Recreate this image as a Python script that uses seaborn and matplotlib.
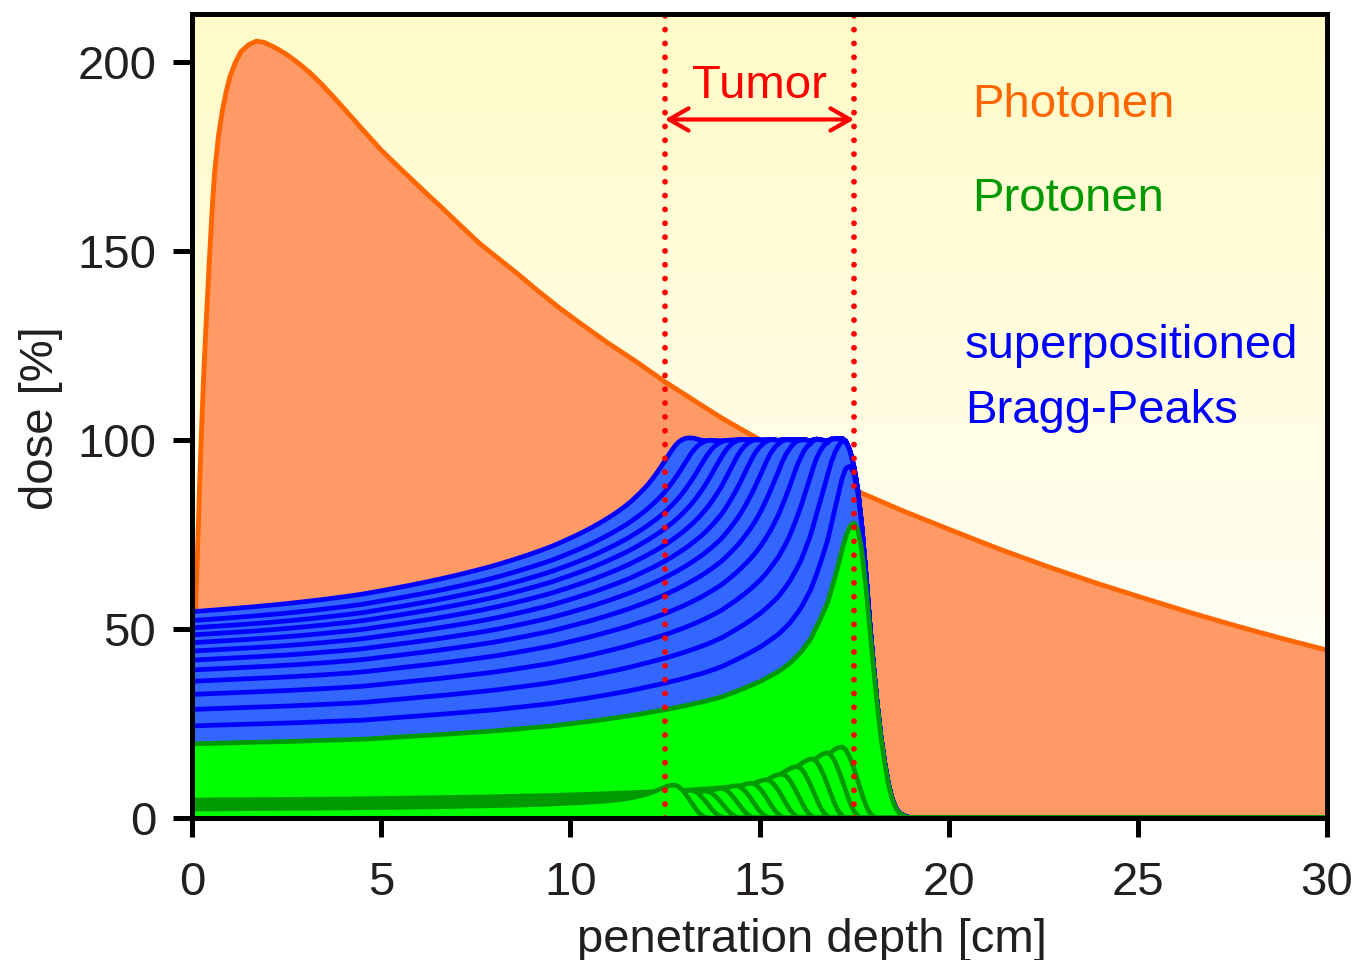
import numpy as np
import matplotlib
matplotlib.use("Agg")
import matplotlib.pyplot as plt
import seaborn as sns

# Photon depth-dose curve (depth in cm, dose in %)
photon_depth = [0.0, 0.05, 0.1, 0.15, 0.2, 0.25, 0.3, 0.35, 0.4, 0.45, 0.5, 0.55,
                0.6, 0.7, 0.8, 0.9, 1.0, 1.15, 1.3, 1.5, 1.7, 1.9, 2.2, 2.5, 2.8,
                3.1, 3.4, 3.8, 4.2, 4.6, 5.0, 5.4, 5.8, 6.2, 6.6, 7.1, 7.6, 8.1,
                8.6, 9.15, 9.7, 10.3, 11.0, 11.7, 12.5, 13.2, 14.0, 14.7, 15.5,
                16.5, 17.5, 18.8, 20.1, 21.4, 22.7, 24.0, 25.3, 26.4, 27.6, 28.8,
                30.0]
photon_dose = [30, 45, 58, 72, 88, 102, 115, 126, 136, 146, 155, 164,
               171, 180.5, 187, 192, 196, 200, 202.8, 204.6, 205.5, 205.2, 203.8,
               202, 199.8, 197.3, 194.4, 190.1, 185.6, 181.1, 176.7, 172.8, 169.0,
               165.2, 161.5, 156.7, 152.0, 148.0, 144.0, 139.4, 135.0, 130.6,
               125.6, 121.0, 115.4, 110.9, 105.8, 101.8, 97.3, 91.8, 86.8, 81.2,
               76.0, 70.9, 66.2, 61.8, 57.7, 54.3, 50.8, 47.5, 44.4]

# Bragg curve of the deepest proton beam (range 17.5 cm)
bragg_depth = [0.0, 2.5, 4.5, 6.5, 8.0, 9.5, 10.5, 11.5, 12.5, 13.0, 13.5, 14.0,
               14.5, 15.0, 15.5, 15.8, 16.1, 16.35, 16.6, 16.8, 16.95, 17.1, 17.2,
               17.3, 17.4, 17.5, 17.6, 17.7, 17.8, 17.9, 18.0, 18.1, 18.2, 18.3,
               18.4, 18.5, 18.6, 18.7, 18.85, 19.0]
bragg_dose = [19.6, 20.2, 20.8, 22.0, 23.0, 24.3, 25.5, 26.9, 28.6, 29.6, 30.7,
              32.0, 33.9, 36.0, 38.7, 40.9, 43.9, 47.3, 52.4, 57.0, 62.0, 67.6,
              71.7, 75.0, 77.3, 78.0, 76.3, 71.0, 62.5, 51.5, 41.0, 31.0, 22.0,
              15.0, 9.2, 5.2, 2.6, 1.2, 0.4, 0.0]

# shallower beams fall off more steeply behind their peak (fraction of peak)
shallow_falloff_depth = [17.6, 17.7, 17.8, 17.9, 18.0, 18.1, 18.2, 18.3, 18.4]
shallow_falloff_frac = [0.96, 0.86, 0.72, 0.55, 0.38, 0.22, 0.10, 0.03, 0.0]

# individual beams: range (cm) and peak dose (%), deepest first
peak_ranges = [17.5, 17.18, 16.8, 16.4, 16.0, 15.6, 15.2, 14.8, 14.4, 14.0,
               13.6, 13.2, 12.75]
peak_heights = [78.0, 18.8, 17.2, 15.6, 13.6, 11.6, 10.1, 9.2, 8.5, 7.8,
                7.1, 7.3, 8.7]

tumor_edges = [12.5, 17.5]
x_ticks = [0, 5, 10, 15, 20, 25, 30]
y_ticks = [0, 50, 100, 150, 200]

sns.set_theme(style="white")
plt.rcParams["font.family"] = ["Liberation Sans", "DejaVu Sans"]

grid = np.linspace(0, 30, 3001)
ipk = int(np.argmax(bragg_dose))
ref_range = bragg_depth[ipk]
ref_peak = bragg_dose[ipk]
deep_x = np.array(bragg_depth)
deep_y = np.array(bragg_dose) / ref_peak
shal_x = np.concatenate([deep_x[:ipk + 1], shallow_falloff_depth])
shal_y = np.concatenate([deep_y[:ipk + 1], shallow_falloff_frac])


def bragg_at(x, r, h, deep=False):
    bx, by = (deep_x, deep_y) if deep else (shal_x, shal_y)
    return np.interp(np.asarray(x) + (ref_range - r), bx, by, right=0.0) * h


peaks = np.array([bragg_at(grid, r, h, deep=(i == 0))
                  for i, (r, h) in enumerate(zip(peak_ranges, peak_heights))])
partial = np.cumsum(peaks, axis=0)
n = len(peak_ranges)

fig, ax = plt.subplots(figsize=(13.57, 9.6), dpi=100)
fig.subplots_adjust(left=0.1415, right=0.9779, bottom=0.148, top=0.9854)
ytop = 212.7

# pale yellow backdrop fading to white towards the bottom
t = np.linspace(0, 1, 256)[:, None, None]
c_bot = np.array([1.0, 1.0, 1.0])
c_top = np.array([1.0, 0.984, 0.78])
img = c_bot + (c_top - c_bot) * t
ax.imshow(img, extent=[0, 30, 0, ytop], origin="lower", aspect="auto",
          zorder=0, interpolation="bilinear")

# photons
ax.fill_between(photon_depth, photon_dose, color="#FF9966", lw=0, zorder=1)
sns.lineplot(x=photon_depth, y=photon_dose, color="#FF6600", lw=3.5,
             estimator=None, ax=ax, zorder=2)

z = 3.0
# running sums of the beams, from the full spread-out peak downwards
for k in range(n - 1, 0, -1):
    ax.fill_between(grid, partial[k], color="#3366FF", lw=0, zorder=z)
    sns.lineplot(x=grid, y=partial[k], color="#0000FF", lw=3.4,
                 estimator=None, ax=ax, zorder=z + 0.001)
    z += 0.01
# individual Bragg peaks
for k in range(n):
    ax.fill_between(grid, peaks[k], color="#00FF00", lw=0, zorder=z)
    sns.lineplot(x=grid, y=peaks[k], color="#009900", lw=3.4,
                 estimator=None, ax=ax, zorder=z + 0.001)
    z += 0.01

# tumour borders
for xe in tumor_edges:
    ax.axvline(xe, color="red", lw=4.2, ls=(0, (0.001, 2.37)),
               dash_capstyle="round", zorder=10)
ax.annotate("", xy=(tumor_edges[0], 184.8), xytext=(tumor_edges[1], 184.8),
            arrowprops=dict(arrowstyle="<->,head_length=0.7,head_width=0.4",
                            color="red", lw=3, mutation_scale=20,
                            shrinkA=0, shrinkB=0), zorder=11)
ax.text(sum(tumor_edges) / 2, 190.4, "Tumor", color="red", fontsize=34,
        ha="center", va="baseline", zorder=11)

ax.text(20.62, 185.4, "Photonen", color="#FF6600", fontsize=34, va="baseline")
ax.text(20.62, 160.6, "Protonen", color="#009900", fontsize=34, va="baseline")
ax.text(20.43, 121.7, "superpositioned", color="#0000FF", fontsize=34, va="baseline")
ax.text(20.43, 104.6, "Bragg-Peaks", color="#0000FF", fontsize=34, va="baseline")

ax.set_xlim(0, 30)
ax.set_ylim(0, ytop)
ax.set_xticks(x_ticks)
ax.set_yticks(y_ticks)
ax.tick_params(axis="both", which="major", direction="out", length=13.7,
               width=3.6, color="black", labelsize=34, labelcolor="#231F20",
               bottom=True, left=True, pad=12)
ax.tick_params(axis="x", pad=17)
for sp in ax.spines.values():
    sp.set_linewidth(3.6)
    sp.set_color("black")
    sp.set_zorder(50)
ax.set_xlabel("penetration depth [cm]", fontsize=34, color="#231F20")
ax.set_ylabel("dose [%]", fontsize=34, color="#231F20")
ax.xaxis.set_label_coords(0.546, -0.124)
ax.yaxis.set_label_coords(-0.114, 0.4975)

fig.savefig("out.png", dpi=100)
